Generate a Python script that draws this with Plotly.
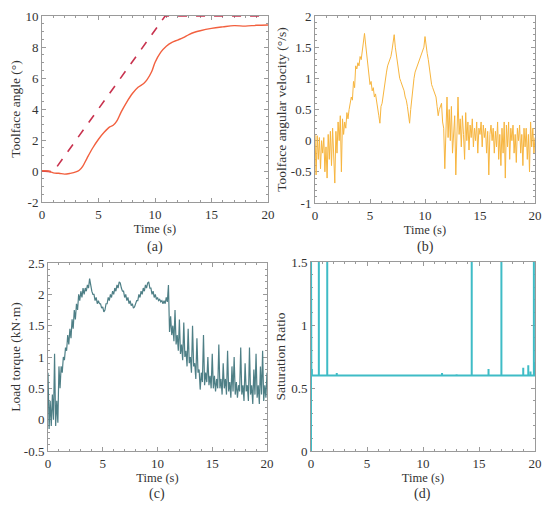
import plotly.graph_objects as go

# ---------------- data ----------------
# (a) toolface angle
a_time = [0, 0.5, 1, 1.5, 2, 2.5, 3, 3.3, 3.6, 4, 4.5, 5, 5.5, 6, 6.3, 6.6, 7, 7.5, 8, 8.5,
          9, 9.3, 9.7, 10, 10.5, 11, 11.5, 12, 12.5, 13, 13.5, 14, 15, 16, 17, 18, 19, 20]
a_angle = [0.02, 0.0, -0.12, -0.15, -0.2, -0.15, -0.06, 0.05, 0.3, 0.85, 1.5, 2.05, 2.5, 2.85,
           2.95, 3.2, 3.8, 4.45, 5.0, 5.4, 5.65, 5.9, 6.4, 7.0, 7.65, 8.05, 8.3, 8.45, 8.6, 8.8,
           8.95, 9.05, 9.2, 9.3, 9.38, 9.35, 9.4, 9.42]
a_ref_time = [0, 1, 10.9, 20]
a_ref_angle = [0, -0.05, 10, 10]

# (b) toolface angular velocity, sampled every 0.1 s
b_velocity = [
    0.1, -0.55, 0.08, -0.3, 0.05, -0.45, 0.0, -0.2, 0.05, -0.5,
    -0.1, -0.6, 0.1, -0.3, 0.15, -0.4, 0.2, -0.2, -0.68, 0.15,
    -0.2, 0.3, 0.0, 0.4, -0.5, 0.35, 0.1, 0.3, 0.2, 0.45,
    0.35, 0.5, 0.6, 0.7, 0.65, 0.95, 0.85, 1.2, 1.15, 1.25,
    1.2, 1.35, 1.3, 1.45, 1.5, 1.72, 1.55, 1.4, 1.25, 1.05,
    0.9, 0.95, 0.8, 0.85, 0.7, 0.75, 0.6, 0.55, 0.4, 0.28,
    0.55, 0.6, 0.75, 0.85, 1.0, 1.1, 1.2, 1.25, 1.3, 1.35,
    1.45, 1.55, 1.7, 1.5, 1.35, 1.2, 1.1, 1.0, 0.95, 0.9,
    0.85, 0.8, 0.7, 0.65, 0.55, 0.4, 0.28, 0.5, 0.7, 0.85,
    1.0, 1.1, 1.15, 1.2, 1.25, 1.3, 1.35, 1.4, 1.45, 1.5,
    1.67, 1.5, 1.4, 1.3, 1.15, 0.95, 0.9, 0.85, 0.8, 0.75,
    0.7, 0.55, 0.4, 0.5, 0.55, 0.6, 0.3, 0.2, -0.45, 0.1,
    0.7, 0.05, 0.5, 0.0, 0.55, -0.2, 0.2, 0.4, -0.55, 0.3,
    0.7, 0.1, 0.35, -0.1, 0.4, 0.1, -0.3, 0.45, 0.0, 0.3,
    -0.15, 0.25, 0.05, 0.35, -0.1, 0.2, 0.0, 0.3, -0.2, 0.2,
    0.1, 0.3, -0.1, 0.25, 0.05, 0.2, -0.2, 0.15, -0.55, 0.1,
    0.25, 0.0, 0.2, -0.2, 0.15, -0.1, 0.3, -0.3, 0.1, -0.4,
    0.2, -0.2, 0.3, -0.6, 0.25, -0.1, 0.3, -0.3, 0.2, 0.0,
    0.25, -0.2, 0.1, -0.35, 0.2, 0.0, 0.25, -0.2, 0.1, -0.4,
    0.2, -0.1, 0.2, -0.3, 0.1, -0.5, 0.3, -0.1, 0.2, -0.2,
    0.05,
]

# (c) load torque, sampled every 0.1 s
c_torque = [
    0.75, -0.15, 0.3, -0.1, 0.4, 0.0, 1.05, -0.1, 0.3, -0.05,
    0.85, 0.5, 0.85, 0.75, 1.0, 0.95, 1.15, 1.1, 1.35, 1.2,
    1.45, 1.3, 1.6, 1.45, 1.75, 1.6, 1.85, 1.75, 2.0, 1.9,
    2.05, 1.95, 2.1, 2.0, 2.1, 2.05, 2.15, 2.1, 2.25, 2.1,
    2.05, 2.0, 2.0, 1.9, 1.95, 1.85, 1.9, 1.85, 1.85, 1.78,
    1.8, 1.72, 1.75, 1.85, 1.85, 1.95, 1.9, 2.0, 1.95, 2.05,
    2.0, 2.1, 2.05, 2.15, 2.1, 2.2, 2.18, 2.1, 2.05, 2.05,
    1.95, 2.0, 1.9, 1.95, 1.85, 1.9, 1.82, 1.85, 1.78, 1.8,
    1.85, 1.9, 1.9, 2.0, 1.95, 2.05, 2.0, 2.1, 2.05, 2.15,
    2.1, 2.18, 2.2, 2.1, 2.1, 2.0, 2.05, 1.95, 2.0, 1.92,
    1.95, 1.9, 1.92, 1.88, 1.9, 1.85, 1.9, 1.85, 1.95, 1.88,
    2.15, 1.4, 1.65, 1.35, 1.5, 1.25, 1.75, 1.2, 1.35, 1.1,
    1.6, 1.05, 1.2, 0.95, 1.55, 1.0, 1.1, 0.85, 1.45, 0.9,
    1.0, 0.75, 1.5, 0.85, 0.9, 0.65, 1.3, 0.75, 0.8, 0.48,
    0.75, 0.6, 1.35, 0.55, 0.75, 0.6, 1.0, 0.55, 0.7, 0.5,
    1.05, 0.5, 0.7, 0.45, 0.65, 0.5, 1.2, 0.5, 0.65, 0.4,
    0.9, 0.5, 0.65, 0.4, 1.1, 0.45, 0.6, 0.35, 0.85, 0.45,
    1.0, 0.4, 0.6, 0.35, 0.55, 0.45, 1.15, 0.4, 0.55, 0.3,
    0.9, 0.45, 0.55, 0.3, 1.15, 0.4, 0.55, 0.25, 0.8, 0.4,
    1.05, 0.35, 0.55, 0.25, 0.85, 0.4, 1.1, 0.3, 0.55, 0.35,
    0.75,
]
bc_time = [round(i * 0.1, 1) for i in range(201)]

# (d) saturation ratio
d_time = [0, 0, 0.03, 0.08, 0.08, 0.08, 0.7, 0.7, 0.7, 1.45, 1.45, 1.45, 2.3, 2.3, 2.3,
          11.7, 11.7, 11.7, 13.0, 13.0, 13.0, 14.35, 14.35, 14.35, 15.85, 15.85, 15.85,
          17.0, 17.0, 17.0, 18.95, 18.95, 18.95, 19.4, 19.4, 19.4, 19.6, 19.6, 19.6,
          19.9, 19.9, 19.9, 20.0, 20.0]
d_ratio = [0, 1.6, 0.6, 0.6, 0.65, 0.6, 0.6, 1.6, 0.6, 0.6, 1.6, 0.6, 0.6, 0.62, 0.6,
           0.6, 0.62, 0.6, 0.6, 0.61, 0.6, 0.6, 1.6, 0.6, 0.6, 0.65, 0.6,
           0.6, 1.6, 0.6, 0.6, 0.66, 0.6, 0.6, 0.68, 0.6, 0.6, 0.63, 0.6,
           0.6, 1.6, 0.6, 0.6, 0.7]

# tick labels
x_ticks = [0, 5, 10, 15, 20]
x_labels = ["0", "5", "10", "15", "20"]
a_yticks = [-2, 0, 2, 4, 6, 8, 10]
a_ylabels = ["-2", "0", "2", "4", "6", "8", "10"]
b_yticks = [-1, -0.5, 0, 0.5, 1, 1.5, 2]
b_ylabels = ["-1", "-0.5", "0", "0.5", "1", "1.5", "2"]
c_yticks = [-0.5, 0, 0.5, 1, 1.5, 2, 2.5]
c_ylabels = ["-0.5", "0", "0.5", "1", "1.5", "2", "2.5"]
d_yticks = [0, 0.5, 1, 1.5]
d_ylabels = ["0", "0.5", "1", "1.5"]

# ---------------- figure ----------------
# page body adds an 8 px margin, so the figure is 542x504 and positions are shifted by 8 px
W, H, OFF = 542, 504, 8


def px_x(p):
    return (p - OFF) / W


def px_y(p):
    return 1 - (p - OFF) / H


FONT = "Liberation Serif, Times New Roman, serif"
TXT = "#333333"
AX = "#9a9a9a"

fig = go.Figure()
fig.add_trace(go.Scatter(x=a_ref_time, y=a_ref_angle, mode="lines",
                         line=dict(color="#c8324e", width=1.6, dash="dash"),
                         xaxis="x", yaxis="y", showlegend=False))
fig.add_trace(go.Scatter(x=a_time, y=a_angle, mode="lines", line_shape="spline",
                         line=dict(color="#f2603f", width=1.4),
                         xaxis="x", yaxis="y", showlegend=False))
fig.add_trace(go.Scatter(x=bc_time, y=b_velocity, mode="lines",
                         line=dict(color="#f7b53e", width=1.0),
                         xaxis="x2", yaxis="y2", showlegend=False))
fig.add_trace(go.Scatter(x=bc_time, y=c_torque, mode="lines",
                         line=dict(color="#4e7f86", width=1.2),
                         xaxis="x3", yaxis="y3", showlegend=False))
fig.add_trace(go.Scatter(x=d_time, y=d_ratio, mode="lines",
                         line=dict(color="#3fbcc6", width=2.0),
                         xaxis="x4", yaxis="y4", showlegend=False))


def xa(x0, x1, anchor, standoff):
    return dict(domain=[px_x(x0), px_x(x1)], anchor=anchor, range=[0, 20],
                tickvals=x_ticks, ticktext=x_labels, automargin=False, layer="below traces",
                ticklabeloverflow="allow",
                showline=True, linecolor=AX, linewidth=1, mirror="ticks", ticks="inside",
                ticklen=4, tickcolor=AX, showgrid=False, zeroline=False,
                minor=dict(ticks="inside", ticklen=2, dtick=1, tickcolor=AX, showgrid=False),
                tickfont=dict(family=FONT, size=13, color=TXT),
                title=dict(text="Time (s)", font=dict(family=FONT, size=12.5, color=TXT),
                           standoff=standoff))


def ya(y0, y1, anchor, rng, tv, tt, mdt, title, standoff):
    return dict(domain=[px_y(y1), px_y(y0)], anchor=anchor, range=rng, tickvals=tv, ticktext=tt,
                automargin=False, layer="below traces", ticklabeloverflow="allow",
                showline=True, linecolor=AX, linewidth=1, mirror="ticks", ticks="inside",
                ticklen=4, tickcolor=AX, showgrid=False, zeroline=False,
                minor=dict(ticks="inside", ticklen=2, dtick=mdt, tickcolor=AX, showgrid=False),
                tickfont=dict(family=FONT, size=13, color=TXT),
                title=dict(text=title, font=dict(family=FONT, size=13.5, color=TXT),
                           standoff=standoff))


fig.update_layout(
    width=W, height=H, margin=dict(l=0, r=0, t=0, b=0, autoexpand=False),
    paper_bgcolor="white", plot_bgcolor="white",
    xaxis=xa(42, 268, "y", 1),
    yaxis=ya(16, 202, "x", [-2, 10], a_yticks, a_ylabels, 0.5, "Toolface angle (°)", 1),
    xaxis2=xa(315, 535, "y2", 1),
    yaxis2=ya(16, 203, "x2", [-1, 2], b_yticks, b_ylabels, 0.1,
              "Toolface angular velocity (°/s)", 1),
    xaxis3=xa(48, 267, "y3", 0),
    yaxis3=ya(263, 451, "x3", [-0.5, 2.5], c_yticks, c_ylabels, 0.1, "Load torque (kN·m)", 0),
    xaxis4=xa(311, 535, "y4", 2),
    yaxis4=ya(262, 451, "x4", [0, 1.5], d_yticks, d_ylabels, 0.1, "Saturation Ratio", 2),
)

captions = [("(a)", 155, 247), ("(b)", 425, 247), ("(c)", 157, 494), ("(d)", 422, 494)]
for text, cx, cy in captions:
    fig.add_annotation(text=text, x=px_x(cx), y=px_y(cy), xref="paper", yref="paper",
                       showarrow=False, xanchor="center", yanchor="middle",
                       font=dict(family=FONT, size=14, color=TXT))

fig.write_html("out.html")
